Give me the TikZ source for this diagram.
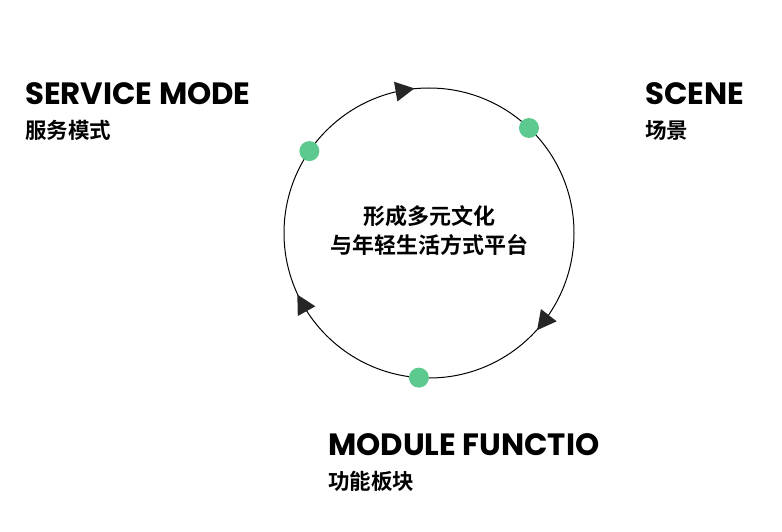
\documentclass[tikz,border=0pt]{standalone}
\usepackage{fontspec}
\usetikzlibrary{calc}
\setmainfont{Poppins}
\newfontfamily\cjk{Noto Sans CJK SC Bold}
\definecolor{dotgreen}{HTML}{5CC98F}
\begin{document}
\begin{tikzpicture}[x=1pt,y=1pt,
  dot/.style={circle,fill=dotgreen,minimum size=20pt,inner sep=0pt},
  head/.style={fill=black!85},
  title/.style={anchor=base west,inner sep=0pt,font=\fontsize{30.8}{31}\selectfont\bfseries},
  sub/.style={anchor=base west,inner sep=0pt,font=\cjk\fontsize{21.5}{22}\selectfont},
  ctr/.style={align=center,font=\cjk\fontsize{22}{29}\selectfont}]
\useasboundingbox (0,0) rectangle (782,531);
\coordinate (c) at (429,298);
\draw[line width=1pt] (c) circle (145);
\foreach \a/\n in {145.6/d1,46.4/d2,-94/d3}
  \node[dot] (\n) at ($(c)+(\a:145)$) {};
\foreach \a in {99.7,-38,-151}
  \fill[head,shift={($(c)+(\a:145)$)},rotate=\a-90] (10,0) -- (-9,10) -- (-9,-10) -- cycle;
\node[title] (t1) at (25,426) {SERVICE MODE};
\node[sub] (s1) at (25,392) {服务模式};
\node[title] (t2) at (645,426) {SCENE};
\node[sub] (s2) at (645,392) {场景};
\node[title] (t3) at (328,76) {MODULE FUNCTIO};
\node[sub] (s3) at (328,42) {功能板块};
\node[ctr] (m) at ($(c)+(0,2)$) {形成多元文化\\与年轻生活方式平台};
\end{tikzpicture}
\end{document}
